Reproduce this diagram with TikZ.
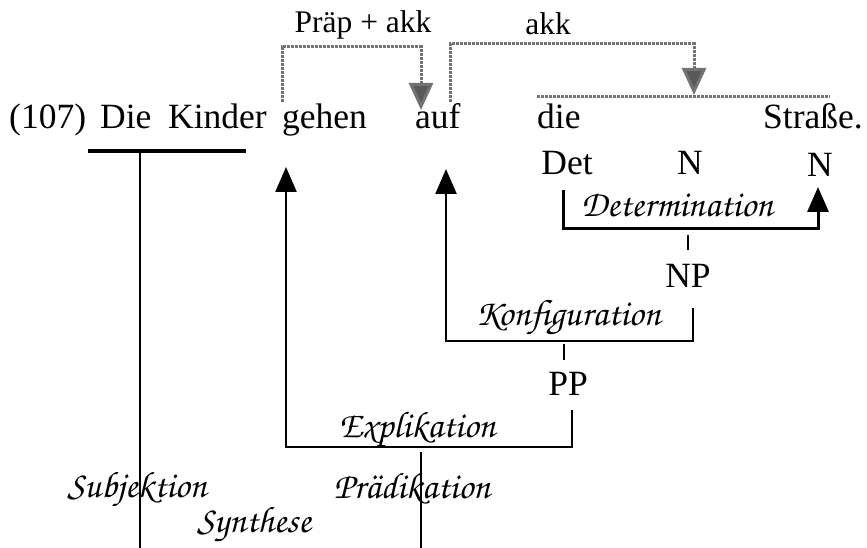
\documentclass[tikz,border=0pt]{standalone}
\usepackage{fontspec}
\setmainfont{Liberation Serif}
\newfontfamily\chorus{texgyrechorus-mediumitalic.otf}
\usetikzlibrary{arrows.meta}
\tikzset{
  word/.style={font=\fontsize{35.5}{40}\selectfont, inner sep=0pt, anchor=base},
  small/.style={font=\fontsize{31.5}{34}\selectfont, inner sep=0pt, anchor=base},
  relation/.style={font=\chorus\fontsize{37}{40}\selectfont, inner sep=0pt, anchor=base},
  link/.style={line width=2.4pt},
  valence/.style={draw=gray!90!black, line width=3pt, dash pattern=on 3pt off 1pt},
  uparrow/.style={link, -{Triangle[width=21pt,length=25pt]}},
  downarrow/.style={valence, -{Triangle[width=24pt,length=27pt,fill=gray!70!black,sep=-2pt]}},
}
\begin{document}
\begin{tikzpicture}[x=1pt,y=-1pt]
\useasboundingbox (0,0) rectangle (867,548);
% the sentence
\node[word,anchor=base west] (num) at (9,129) {(107)};
\node[word,anchor=base west] (die1) at (100,129) {Die};
\node[word,anchor=base west] (kinder) at (168,129) {Kinder};
\node[word,anchor=base west] (gehen) at (282,129) {gehen};
\node[word,anchor=base west] (auf) at (415,129) {auf};
\node[word,anchor=base west] (die) at (537,129) {die};
\node[word,anchor=base west] (strasse) at (763,129) {Straße.};
% categories
\node[word] (det) at (567,175) {Det};
\node[word] (n1) at (690,175) {N};
\node[word] (n2) at (820,177) {N};
\node[word] (np) at (688,287) {NP};
\node[word] (pp) at (568,395) {PP};
% valence labels
\node[small] (praep) at (363,33) {Präp + akk};
\node[small] (akk) at (548,35) {akk};
% relations
\node[relation] (determ) at (677,217) {Determination};
\node[relation] (konfig) at (568,325) {Konfiguration};
\node[relation] (expl) at (417,437) {Explikation};
\node[relation] (subj) at (137,497) {Subjektion};
\node[relation] (synth) at (254,532) {Synthese};
\node[relation] (praed) at (412,498) {Prädikation};
% points of the brackets
\coordinate (gehen-in) at (286,167);
\coordinate (auf-in) at (446,169);
\coordinate (n2-in) at (818,187);
\coordinate (det-out) at (563,190);
\coordinate (np-top) at (688,235);
\coordinate (np-out) at (693,308);
\coordinate (pp-top) at (564,344);
\coordinate (pp-out) at (572,410);
\coordinate (praed-top) at (421,452);
% valence (grey)
\draw[downarrow] (282,102) -- (282,47) -- (421,47) -- (421,108);
\draw[downarrow] (450,102) -- (450,44) -- (694,44) -- (694,93);
\draw[valence] (537,97) -- (830,97);
% subject
\draw[line width=3.4pt] (88,151) -- (246,151);
\draw[link] (140,151) -- (140,548);
% Determination
\draw[uparrow,line width=3pt] (det-out) |- (818,228) -- (n2-in);
\draw[link] (np-top) -- (688,250);
% Konfiguration
\draw[uparrow] (np-out) |- (446,341) -- (auf-in);
\draw[link] (pp-top) -- (564,360);
% Explikation
\draw[uparrow] (pp-out) |- (286,447) -- (gehen-in);
\draw[link] (praed-top) -- (421,548);
\end{tikzpicture}
\end{document}
